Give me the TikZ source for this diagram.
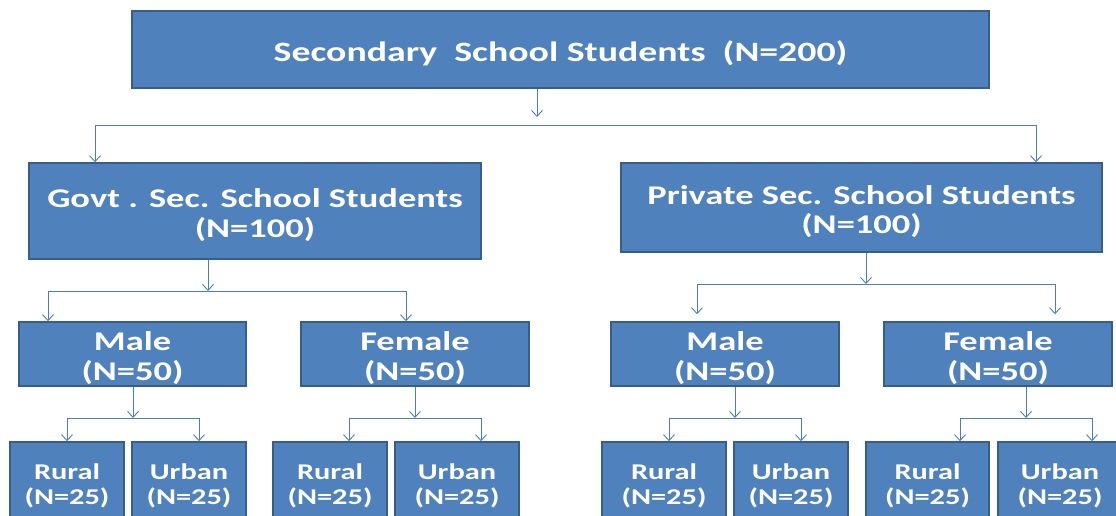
\documentclass[tikz,border=0pt]{standalone}
\usepackage{fontspec}
\setmainfont{Carlito}[FakeStretch=1.35]
\usetikzlibrary{arrows.meta}
\definecolor{boxblue}{HTML}{4F81BD}
\definecolor{boxedge}{HTML}{385D8A}
\definecolor{linkblue}{HTML}{4A7EBB}
\tikzset{
  box/.style={draw=boxedge,line width=1.5pt,fill=boxblue,text=white,align=center,inner sep=0pt},
  link/.style={draw=linkblue,line width=0.9pt},
  >={Straight Barb[length=6pt,width=11pt]}
}
\newcommand{\bigtxt}{\bfseries\fontsize{28}{30}\selectfont}
\newcommand{\midtxt}{\bfseries\fontsize{27}{29.5}\selectfont}
\newcommand{\smalltxt}{\bfseries\fontsize{22.5}{25}\selectfont}
\newcommand{\lift}{\rule{0pt}{1em}}

\begin{document}
\begin{tikzpicture}[x=1pt,y=-1pt]
  \clip (0,0) rectangle (1116,515);
  %\draw[very thin,lightgray] (0,0) grid[step=50] (1116,515);
  \node[box,font=\bigtxt,minimum width=857pt,minimum height=77pt] (students) at (560.5,49.5) {\lift Secondary\ \ School Students\ \ (N=200)};
  \node[box,font=\midtxt,minimum width=452pt,minimum height=96pt] (govt) at (255,211) {\lift Govt . Sec. School Students\\(N=100)};
  \node[box,font=\midtxt,minimum width=481pt,minimum height=89pt] (private) at (861.5,207.5) {\lift Private Sec. School Students\\(N=100)};
  \node[box,font=\midtxt,minimum width=227pt,minimum height=64pt] (govtmale) at (132.5,354) {\lift Male\\(N=50)};
  \node[box,font=\midtxt,minimum width=228pt,minimum height=64pt] (govtfemale) at (415,354) {\lift Female\\(N=50)};
  \node[box,font=\midtxt,minimum width=228pt,minimum height=64pt] (privmale) at (725,354) {\lift Male\\(N=50)};
  \node[box,font=\midtxt,minimum width=228pt,minimum height=64pt] (privfemale) at (998,354) {\lift Female\\(N=50)};
  \node[box,font=\smalltxt,minimum width=114pt,minimum height=81pt] (gmrural) at (67,482.5) {\lift Rural\\(N=25)};
  \node[box,font=\smalltxt,minimum width=114pt,minimum height=81pt] (gmurban) at (189,482.5) {\lift Urban\\(N=25)};
  \node[box,font=\smalltxt,minimum width=114pt,minimum height=81pt] (gfrural) at (330,482.5) {\lift Rural\\(N=25)};
  \node[box,font=\smalltxt,minimum width=124pt,minimum height=81pt] (gfurban) at (457,482.5) {\lift Urban\\(N=25)};
  \node[box,font=\smalltxt,minimum width=124pt,minimum height=81pt] (pmrural) at (664,482.5) {\lift Rural\\(N=25)};
  \node[box,font=\smalltxt,minimum width=114pt,minimum height=81pt] (pmurban) at (791,482.5) {\lift Urban\\(N=25)};
  \node[box,font=\smalltxt,minimum width=123pt,minimum height=81pt] (pfrural) at (927.5,482.5) {\lift Rural\\(N=25)};
  \node[box,font=\smalltxt,minimum width=124pt,minimum height=81pt] (pfurban) at (1060,482.5) {\lift Urban\\(N=25)};

  % branch points
  \coordinate (s0) at (537,125);   \coordinate (sL) at (95,125);   \coordinate (sR) at (1036,125);
  \coordinate (g0) at (208,291);   \coordinate (gL) at (48,291);   \coordinate (gR) at (406,291);
  \coordinate (p0) at (866,284);   \coordinate (pL) at (697,284);  \coordinate (pR) at (1055,284);
  \coordinate (gm0) at (133,418);  \coordinate (gmL) at (67,418);  \coordinate (gmR) at (199,418);
  \coordinate (gf0) at (415,418);  \coordinate (gfL) at (349,418); \coordinate (gfR) at (481,418);
  \coordinate (pm0) at (735,418);  \coordinate (pmL) at (669,418); \coordinate (pmR) at (801,418);
  \coordinate (pf0) at (1026,418); \coordinate (pfL) at (960,418); \coordinate (pfR) at (1092,418);

  \draw[link,->,shorten >=8pt] (students.south -| s0) -- (s0);
  \draw[link] (sL) -- (sR);
  \draw[link,->] (sL) -- (sL |- govt.north);
  \draw[link,->] (sR) -- (sR |- private.north);

  \draw[link,->] (govt.south -| g0) -- (g0);
  \draw[link] (gL) -- (gR);
  \draw[link,->] (gL) -- (gL |- govtmale.north);
  \draw[link,->] (gR) -- (gR |- govtfemale.north);

  \draw[link,->] (private.south -| p0) -- (p0);
  \draw[link] (pL) -- (pR);
  \draw[link,->,shorten >=7pt] (pL) -- (pL |- privmale.north);
  \draw[link,->,shorten >=7pt] (pR) -- (pR |- privfemale.north);

  \draw[link,->] (govtmale.south -| gm0) -- (gm0);
  \draw[link] (gmL) -- (gmR);
  \draw[link,->] (gmL) -- (gmL |- gmrural.north);
  \draw[link,->] (gmR) -- (gmR |- gmurban.north);

  \draw[link,->] (govtfemale.south -| gf0) -- (gf0);
  \draw[link] (gfL) -- (gfR);
  \draw[link,->] (gfL) -- (gfL |- gfrural.north);
  \draw[link,->] (gfR) -- (gfR |- gfurban.north);

  \draw[link,->] (privmale.south -| pm0) -- (pm0);
  \draw[link] (pmL) -- (pmR);
  \draw[link,->] (pmL) -- (pmL |- pmrural.north);
  \draw[link,->] (pmR) -- (pmR |- pmurban.north);

  \draw[link,->] (privfemale.south -| pf0) -- (pf0);
  \draw[link] (pfL) -- (pfR);
  \draw[link,->] (pfL) -- (pfL |- pfrural.north);
  \draw[link,->] (pfR) -- (pfR |- pfurban.north);
\end{tikzpicture}
\end{document}
